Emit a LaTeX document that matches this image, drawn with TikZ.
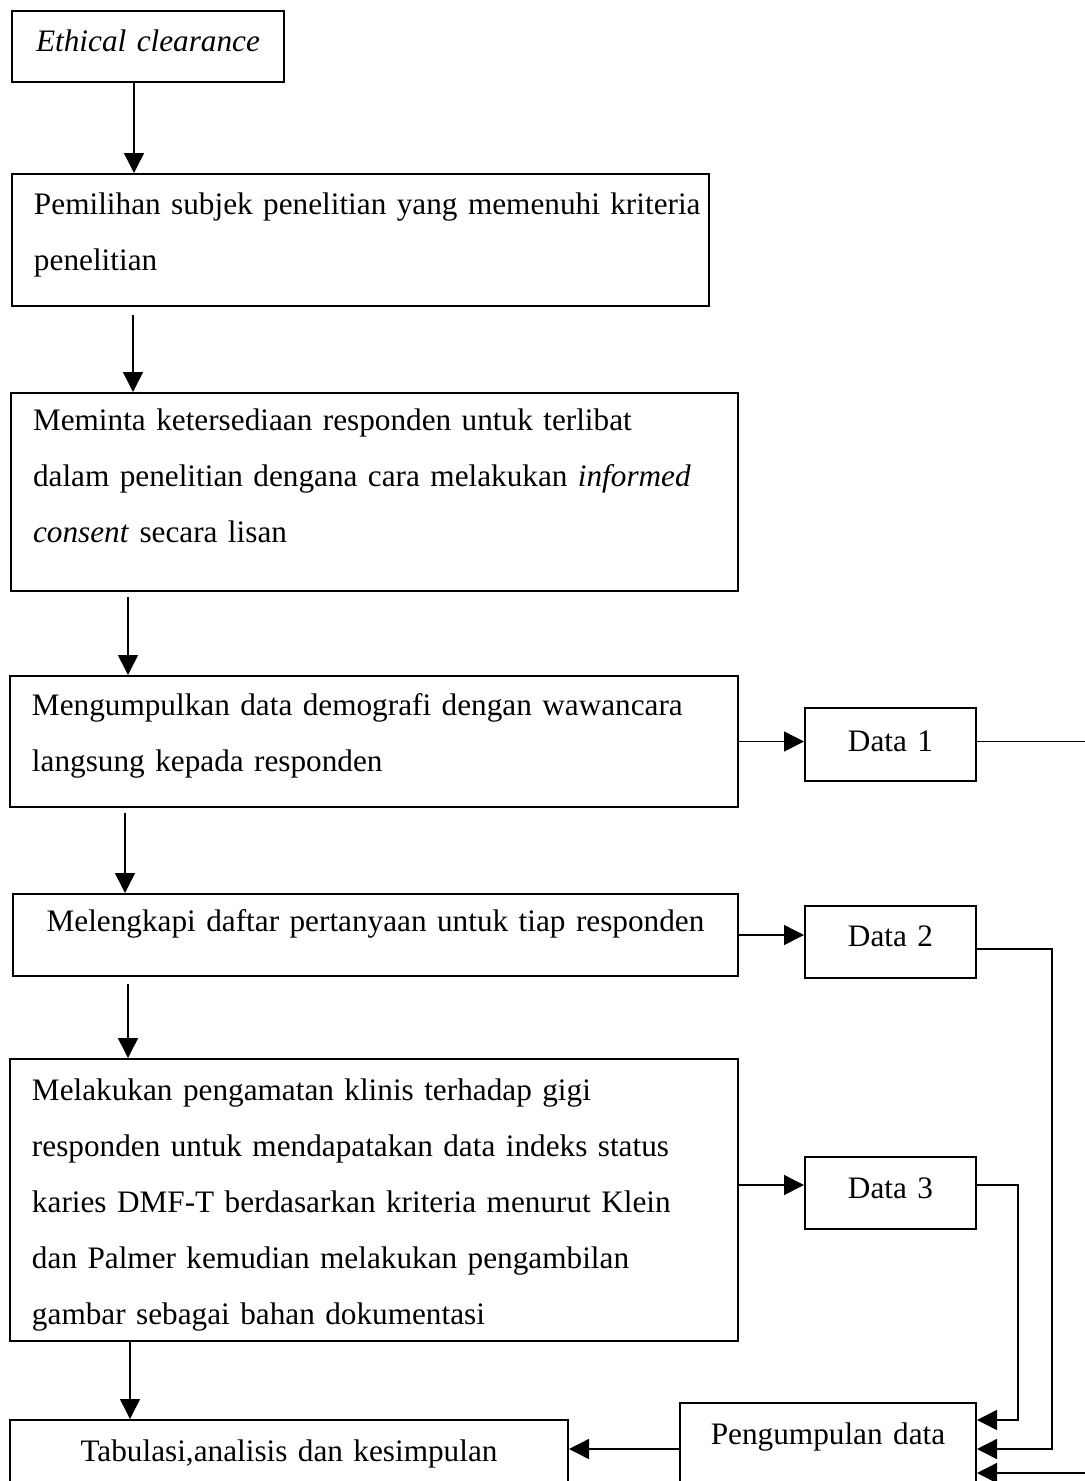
\documentclass[tikz,border=0pt]{standalone}
\usepackage{fontspec}
\setmainfont{Liberation Serif}
\usetikzlibrary{arrows.meta}

\begin{document}
\begin{tikzpicture}[
  x=0.4pt, y=-0.4pt,
  box/.style={draw, line width=0.8pt, anchor=north west, inner sep=0pt, font=\fontsize{12.5}{22.4}\selectfont},
  flow/.style={box, align=left, execute at begin node={\leftskip=8.8pt\hyphenpenalty=10000}},
  mid/.style={box, align=center},
  arr/.style={-{Triangle[length=8pt,width=8pt]}, line width=0.6pt}
]
\clip (0,0) rectangle (1085,1481);
\node[mid, text width=108.8pt, text height=16pt, text depth=12.4pt] (ethic) at (11,10) {\textit{Ethical clearance}};
\node[flow, text width=278.8pt, text height=16pt, text depth=36.8pt] (pilih) at (11,173) {Pemilihan subjek penelitian yang memenuhi kriteria\\penelitian};
\node[flow, text width=290.8pt, text height=14.8pt, text depth=64.4pt] (minta) at (10,392) {Meminta ketersediaan responden untuk terlibat\\dalam penelitian dengana cara melakukan \textit{informed}\\\textit{consent} secara lisan};
\node[flow, text width=291.2pt, text height=15.6pt, text depth=36.8pt] (demo) at (9,675) {Mengumpulkan data demografi dengan wawancara\\langsung kepada responden};
\node[mid, text width=290pt, text height=14.8pt, text depth=18pt] (tanya) at (12,893) {Melengkapi daftar pertanyaan untuk tiap responden};
\node[flow, text width=291.2pt, text height=16.4pt, text depth=96.4pt] (klinis) at (9,1058) {Melakukan pengamatan klinis terhadap gigi\\responden untuk mendapatakan data indeks status\\karies DMF-T berdasarkan kriteria menurut Klein\\dan Palmer kemudian melakukan pengambilan\\gambar sebagai bahan dokumentasi};
\node[mid, text width=223.2pt, text height=16.4pt, text depth=24pt] (tabulasi) at (9,1419) {Tabulasi,analisis dan kesimpulan};
\node[mid, text width=118.4pt, text height=16.4pt, text depth=20.4pt] (kumpul) at (679,1402) {Pengumpulan data};
\node[mid, text width=68.4pt, text height=17.2pt, text depth=12pt] (data1) at (804,707) {Data 1};
\node[mid, text width=68.4pt, text height=16pt, text depth=12.8pt] (data2) at (804,905) {Data 2};
\node[mid, text width=68.4pt, text height=16.4pt, text depth=12.4pt] (data3) at (804,1156) {Data 3};
\draw[arr] ([xshift=-5.6pt]ethic.south) -- ([xshift=-5.6pt]ethic.south |- pilih.north);
\draw[arr] ([xshift=48.8pt,yshift=-3.2pt]pilih.south west) -- ([xshift=48.8pt]pilih.south west |- minta.north);
\draw[arr] ([xshift=47.2pt,yshift=-2pt]minta.south west) -- ([xshift=47.2pt]minta.south west |- demo.north);
\draw[arr] ([xshift=46.4pt,yshift=-2pt]demo.south west) -- ([xshift=46.4pt]demo.south west |- tanya.north);
\draw[arr] ([xshift=46.4pt,yshift=-2.8pt]tanya.south west) -- ([xshift=46.4pt]tanya.south west |- klinis.north);
\draw[arr] ([xshift=48.4pt]klinis.south west) -- ([xshift=48.4pt]klinis.south west |- tabulasi.north);
\draw[arr] (demo.east) -- (demo.east -| data1.west);
\draw[arr] (tanya.east) -- (tanya.east -| data2.west);
\draw[arr] ([yshift=6pt]klinis.east) -- ([yshift=6pt]klinis.east -| data3.west);
\draw[arr] (demo.east -| data1.east) -- ++(150,0) |- ([yshift=-9.6pt]kumpul.east);
\draw[arr] ([yshift=-2.8pt]data2.east) -- ++(75,0) |- (kumpul.east);
\draw[arr] ([yshift=3.2pt]data3.east) -- ++(41,0) |- ([yshift=11.6pt]kumpul.east);
\draw[arr] (kumpul.west) -- (kumpul.west -| tabulasi.east);
\end{tikzpicture}
\end{document}
